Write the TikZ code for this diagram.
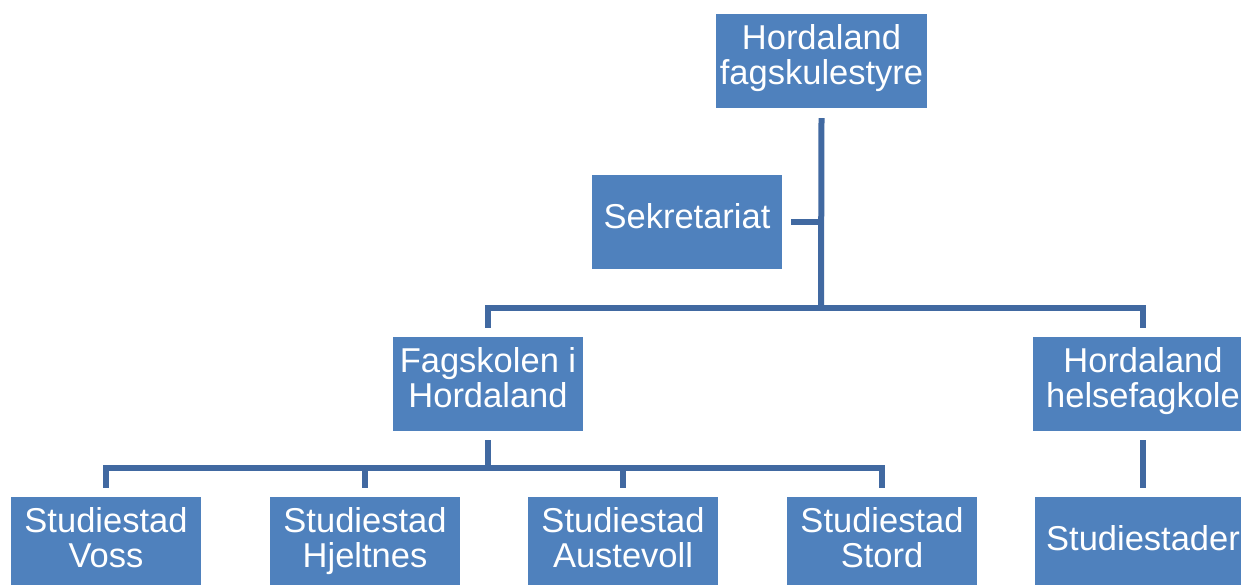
\documentclass[tikz,border=0pt]{standalone}
\usepackage{fontspec}
\setmainfont{Liberation Sans}
\definecolor{boxblue}{HTML}{4F81BD}
\definecolor{lineblue}{HTML}{4169A1}
\newcommand\Ls{\strut}
\begin{document}
\begin{tikzpicture}[x=1pt,y=-1pt,
  box/.style={rectangle, fill=boxblue, text=white, align=center, inner sep=0pt,
    minimum width=190pt, minimum height=94pt,
    font=\fontsize{34.5}{35}\selectfont,
    execute at begin node={\strut},
    execute at end node={\rule[-13pt]{0pt}{0pt}}},
  conn/.style={draw=lineblue, line width=6pt, line join=miter}]
\useasboundingbox (0,0) rectangle (1241,584);
\node[box, minimum width=211pt] (top) at (821.5,61) {Hordaland\\\Ls fagskulestyre};
\node[box] (sek) at (687,222) {Sekretariat};
\node[box] (fag) at (488,384) {Fagskolen i\\\Ls Hordaland};
\node[box, minimum width=220pt] (hel) at (1143,384) {Hordaland\\\Ls helsefagkole};
\node[box] (voss) at (106,544) {Studiestad\\\Ls Voss};
\node[box] (hje) at (365,544) {Studiestad\\\Ls Hjeltnes};
\node[box] (aus) at (623,544) {Studiestad\\\Ls Austevoll};
\node[box] (sto) at (882,544) {Studiestad\\\Ls Stord};
\node[box, minimum width=216pt] (std) at (1143,544) {Studiestader};
\coordinate (b1) at (821,308);
\coordinate (b2) at (488,468);
\draw[conn] ([yshift=-10pt]top.south) -- ([yshift=3pt]b1);
\draw[conn] ([xshift=9pt]sek.east) -- (sek.east -| b1);
\draw[conn] ([yshift=9pt]fag.north) |- (b1) -| ([yshift=9pt]hel.north);
\draw[conn] ([yshift=-9pt]fag.south) -- (b2);
\draw[conn] ([yshift=9pt]voss.north) |- (b2) -| ([yshift=9pt]sto.north);
\draw[conn] ([yshift=9pt]hje.north) -- (hje.north |- b2);
\draw[conn] ([yshift=9pt]aus.north) -- (aus.north |- b2);
\draw[conn] ([yshift=-9pt]hel.south) -- ([yshift=9pt]std.north);
\end{tikzpicture}
\end{document}
